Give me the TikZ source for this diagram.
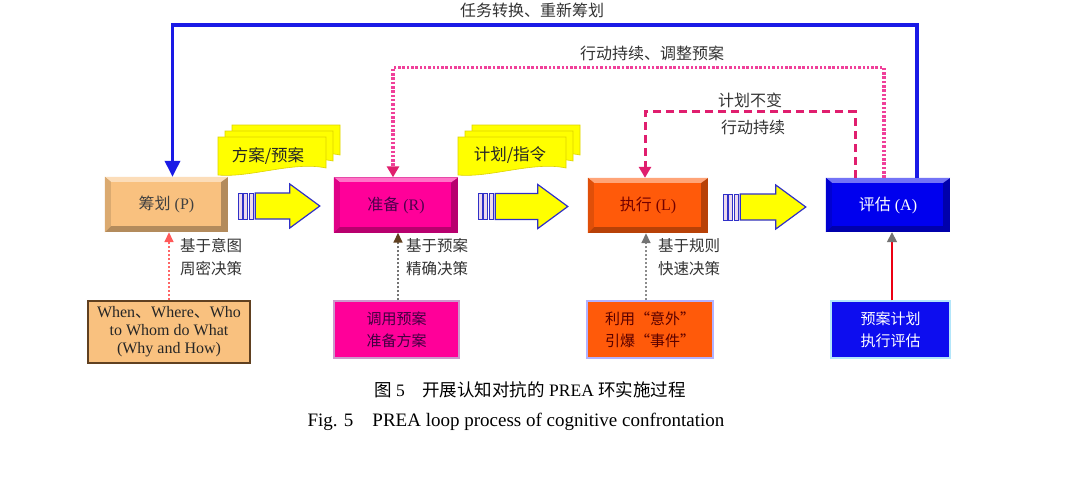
\documentclass[tikz,border=0pt]{standalone}
\usepackage{fontspec}
\setmainfont{Liberation Serif}
\newfontfamily\cjk{Noto Sans CJK SC}
\usetikzlibrary{calc,arrows.meta,backgrounds}
\definecolor{pOr}{HTML}{F9C17F}
\definecolor{rMag}{HTML}{FF0099}
\definecolor{lOr}{HTML}{FF5A0A}
\definecolor{aBl}{HTML}{0000EE}
\definecolor{yel}{HTML}{FFFF00}
\definecolor{arrBlue}{HTML}{3030C8}
\definecolor{loopBlue}{HTML}{1A1AE6}
\definecolor{dotPink}{HTML}{F0409A}
\definecolor{dashPink}{HTML}{E01E6E}
\tikzset{
  mainbox/.style={minimum width=123pt,minimum height=55pt,inner sep=0pt,
    font=\fontsize{16}{18}\selectfont},
  botbox/.style={inner sep=0pt,align=center,line width=1.2pt},
  sidelbl/.style={align=left,font=\cjk\fontsize{15.5}{23}\selectfont,text=black!80,inner sep=0pt},
  looplbl/.style={font=\cjk\fontsize{16}{18}\selectfont,text=black!80,inner sep=0pt},
  docs/.style={fill=yel,draw=yellow!70!olive,line width=0.6pt},
  loopblue/.style={draw=loopBlue,line width=3.5pt,-{Triangle[length=16pt,width=15pt]}},
  loopdot/.style={draw=dotPink,line width=3.2pt,dash pattern=on 2.5pt off 1.8pt,
    -{Triangle[length=11pt,width=12pt,color=dashPink]}},
  loopdash/.style={draw=dashPink,line width=3pt,dash pattern=on 8pt off 5pt,
    -{Triangle[length=11pt,width=12pt]}},
}
\newcommand\bevel[2]{%
  \fill[#2!72!black] (#1.north west) rectangle (#1.south east);
  \fill[#2!55!white] (#1.north west) -- (#1.north east) -- ($(#1.north east)+(-7,5)$) -- ($(#1.north west)+(6,5)$) -- cycle;
  \fill[#2!88!black] (#1.north west) -- ($(#1.north west)+(6,5)$) -- ($(#1.south west)+(6,-6)$) -- (#1.south west) -- cycle;
  \fill[#2] ($(#1.north west)+(6,5)$) rectangle ($(#1.south east)+(-7,-6)$);
}
\newcommand\blkarrow[4]{%
  \coordinate (ba-s) at ($(#1.east)+(#3,1.5)$);
  \coordinate (ba-t) at ($(#2.west)+(-#4,0)$);
  \coordinate (ba-e) at (ba-t |- ba-s);
  \filldraw[fill=yel,draw=arrBlue,line width=1.2pt]
    ($(ba-s)+(17,-13)$) -- ($(ba-e)+(-30,-13)$) -- ($(ba-e)+(-30,-22)$) -- (ba-e)
    -- ($(ba-e)+(-30,22)$) -- ($(ba-e)+(-30,13)$) -- ($(ba-s)+(17,13)$) -- cycle;
  \foreach \dx in {0,5.5,11}{
    \filldraw[fill=violet!15,draw=arrBlue,line width=1pt]
      ($(ba-s)+(\dx,-13)$) rectangle ($(ba-s)+(\dx+4,13)$);}
}
\newcommand\docsheet[4]{%
  \filldraw[docs] (#1,#2) -- ({#1+#3},#2) -- ({#1+#3},{#2+#4-7})
    .. controls ({#1+0.7*#3},{#2+#4-14}) and ({#1+0.3*#3},{#2+#4+3}) .. (#1,{#2+#4}) -- cycle;}
\begin{document}
\begin{tikzpicture}[x=1pt,y=-1pt]
\useasboundingbox (0,0) rectangle (1080,485);

% main boxes
\node[mainbox,text=black!75] (P) at (166.5,204.5) {{\cjk 筹划} (P)};
\node[mainbox,text=violet!60!black,minimum width=124pt] (R) at (396,205) {{\cjk 准备} (R)};
\node[mainbox,text=red!45!black,minimum width=120pt] (L) at (648,205.5) {{\cjk 执行} (L)};
\node[mainbox,text=white,minimum width=124pt,minimum height=54pt] (A) at (888,205) {{\cjk 评估} (A)};
\begin{scope}[on background layer]
  \fill[white] (0,0) rectangle (1080,485);
  \bevel{P}{pOr}
  \bevel{R}{rMag}
  \bevel{L}{lOr}
  \bevel{A}{aBl}
\end{scope}

% document stacks
\docsheet{232}{125}{108}{37}
\docsheet{225}{131}{108}{37}
\docsheet{218}{137}{108}{38}
\node[looplbl,text=black!85,font=\cjk\fontsize{16.5}{18}\selectfont] (d1) at (268,156) {方案/预案};
\docsheet{472}{125}{108}{37}
\docsheet{465}{131}{108}{37}
\docsheet{458}{137}{108}{38}
\node[looplbl,text=black!85,font=\cjk\fontsize{16.5}{18}\selectfont] (d2) at (510,155) {计划/指令};

% block arrows
\blkarrow{P}{R}{10}{14}
\blkarrow{R}{L}{20}{20}
\blkarrow{L}{A}{15}{20}

% feedback loops
\draw[loopblue] ([xshift=29pt]A.north) -- ++(0,-153) -| ([xshift=6pt]P.north);
\draw[loopdot] ([xshift=-4pt]A.north) -- ++(0,-110) -| ([xshift=-3pt]R.north);
\draw[loopdash] ([xshift=-33pt]A.north) -- ++(0,-66) -| ([xshift=-3pt]L.north);
\node[looplbl] (t1) at (532,10) {任务转换、重新筹划};
\node[looplbl] (t2) at (652,53) {行动持续、调整预案};
\node[looplbl] (t3) at (750,100) {计划不变};
\node[looplbl] (t4) at (753,127) {行动持续};

% bottom boxes
\node[botbox,fill=pOr,draw=brown!50!black,minimum width=162pt,minimum height=62pt,
  font=\fontsize{16}{18}\selectfont,text=black!85] (Wb) at (169,332)
  {When{\cjk 、}Where{\cjk 、}Who\\to Whom do What\\(Why and How)};
\node[botbox,fill=rMag,draw=violet!40,minimum width=125pt,minimum height=57pt,
  font=\cjk\fontsize{15}{22}\selectfont,text=violet!50!black] (Rb) at (396.5,329.5)
  {调用预案\\准备方案};
\node[botbox,fill=lOr,draw=blue!30,minimum width=126pt,minimum height=57pt,
  font=\cjk\fontsize{15}{22}\selectfont,text=red!35!black] (Lb) at (650,329.5)
  {利用“意外”\\引爆“事件”};
\node[botbox,fill=aBl!95!white,draw=cyan!30,minimum width=119pt,minimum height=57pt,
  font=\cjk\fontsize{15}{22}\selectfont,text=white] (Ab) at (890.5,329.5)
  {预案计划\\执行评估};

% up arrows
\draw[draw=red!60,line width=1.6pt,dash pattern=on 2pt off 2pt,
  -{Triangle[length=10pt,width=9pt,color=red!65]}] (Wb.north) -- (Wb.north |- P.south);
\draw[draw=black!55,line width=1.6pt,dash pattern=on 2pt off 2pt,
  -{Triangle[length=10pt,width=9pt,color=brown!50!black]}] ([xshift=1.5pt]Rb.north) -- ([xshift=1.5pt]Rb.north |- R.south);
\draw[draw=black!45,line width=1.6pt,dash pattern=on 2pt off 2pt,
  -{Triangle[length=10pt,width=9pt,color=black!55]}] ([xshift=-4pt]Lb.north) -- ([xshift=-4pt]Lb.north |- L.south);
\draw[draw=red!70!purple,line width=1.6pt,
  -{Triangle[length=10pt,width=10pt,color=black!55]}] ([xshift=1.5pt]Ab.north) -- ([xshift=1.5pt]Ab.north |- A.south);

\node[sidelbl,anchor=west] (s1) at (180,257) {基于意图\\周密决策};
\node[sidelbl,anchor=west] (s2) at (406,257) {基于预案\\精确决策};
\node[sidelbl,anchor=west] (s3) at (658,257) {基于规则\\快速决策};

% caption
\node[inner sep=0pt,font=\fontsize{17.5}{20}\selectfont] (c1) at (530,390)
  {{\cjk 图} 5\quad{\cjk 开展认知对抗的} PREA {\cjk 环实施过程}};
\node[inner sep=0pt,font=\fontsize{19}{21}\selectfont] (c2) at (516,422)
  {Fig. 5\quad PREA loop process of cognitive confrontation};
\end{tikzpicture}
\end{document}
